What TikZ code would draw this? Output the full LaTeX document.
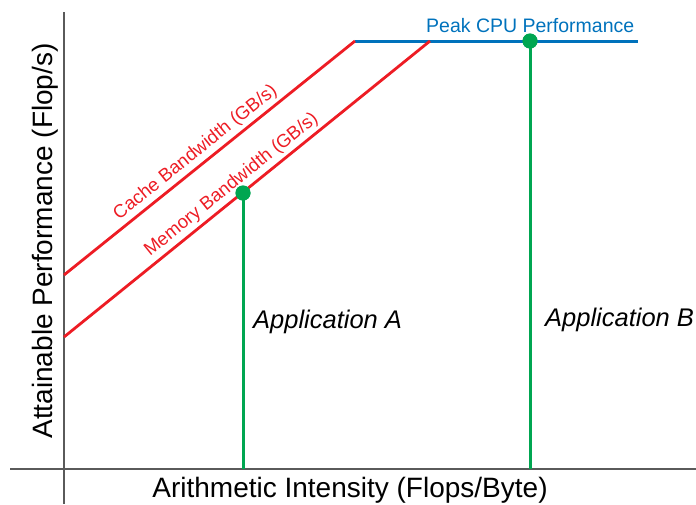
\documentclass[tikz,border=0pt]{standalone}
\usepackage{fontspec}
\setmainfont{Liberation Sans}
\usetikzlibrary{calc}
\definecolor{roofred}{RGB}{237,28,36}
\definecolor{roofblue}{RGB}{0,114,188}
\definecolor{appgreen}{RGB}{0,166,81}
\definecolor{axisgray}{RGB}{90,90,90}

\begin{document}
\begin{tikzpicture}[
x=1pt,y=-1pt,
axisline/.style={draw=axisgray,line width=1.2pt},
bandwidth/.style={draw=roofred,line width=2.8pt},
peakline/.style={draw=roofblue,line width=3pt},
appline/.style={draw=appgreen,line width=3pt},
dot/.style={circle,fill=appgreen,minimum size=15pt,inner sep=0},
bwtext/.style={sloped,above=3pt,inner sep=0pt,text=roofred,font=\fontsize{18.5}{20}\selectfont},
axistext/.style={inner sep=0pt,anchor=base,font=\fontsize{28}{30}\selectfont},
apptext/.style={inner sep=0pt,anchor=base west,font=\fontsize{25.5}{27}\itshape\selectfont}
]
\useasboundingbox (0,0) rectangle (696,504);

% axes
\coordinate (ytop) at (64,12);
\coordinate (ybot) at (64,504);
\coordinate (xleft) at (10,469);
\coordinate (xright) at (696,469);
\draw[axisline] (ytop) -- (ybot);
\draw[axisline] (xleft) -- (xright);

% roofline
\coordinate (c0) at (64,275);
\coordinate (c1) at (355,41);
\coordinate (m0) at (64,337);
\coordinate (m1) at (430,41);
\coordinate (p1) at (638,41);
\draw[peakline] (c1) -- (p1);
\draw[bandwidth] (c0) -- node[bwtext,pos=0.48] {Cache Bandwidth (GB/s)} (c1);
\draw[bandwidth] (m0) -- node[bwtext,pos=0.48] {Memory Bandwidth (GB/s)} (m1);
\node[text=roofblue,inner sep=0pt,anchor=base west,font=\fontsize{19.5}{21}\selectfont] (peaktext) at (426,32) {Peak CPU Performance};

% applications
\coordinate (footA) at (243,469);
\coordinate (footB) at (530,469);
\node[dot] (appA) at (243,193) {};
\node[dot] (appB) at (530,41) {};
\draw[appline] (appA.center) -- (footA);
\draw[appline] (appB.center) -- (footB);
\fill[appgreen] (appA) circle[radius=7.5pt];
\fill[appgreen] (appB) circle[radius=7.5pt];
\node[apptext] (textA) at (253,328) {Application A};
\node[apptext] (textB) at (545,326) {Application B};

% axis labels
\node[axistext] (xlabel) at (350,497) {Arithmetic Intensity (Flops/Byte)};
\node[axistext,rotate=90] (ylabel) at (52,241) {Attainable Performance (Flop/s)};

\end{tikzpicture}
\end{document}
